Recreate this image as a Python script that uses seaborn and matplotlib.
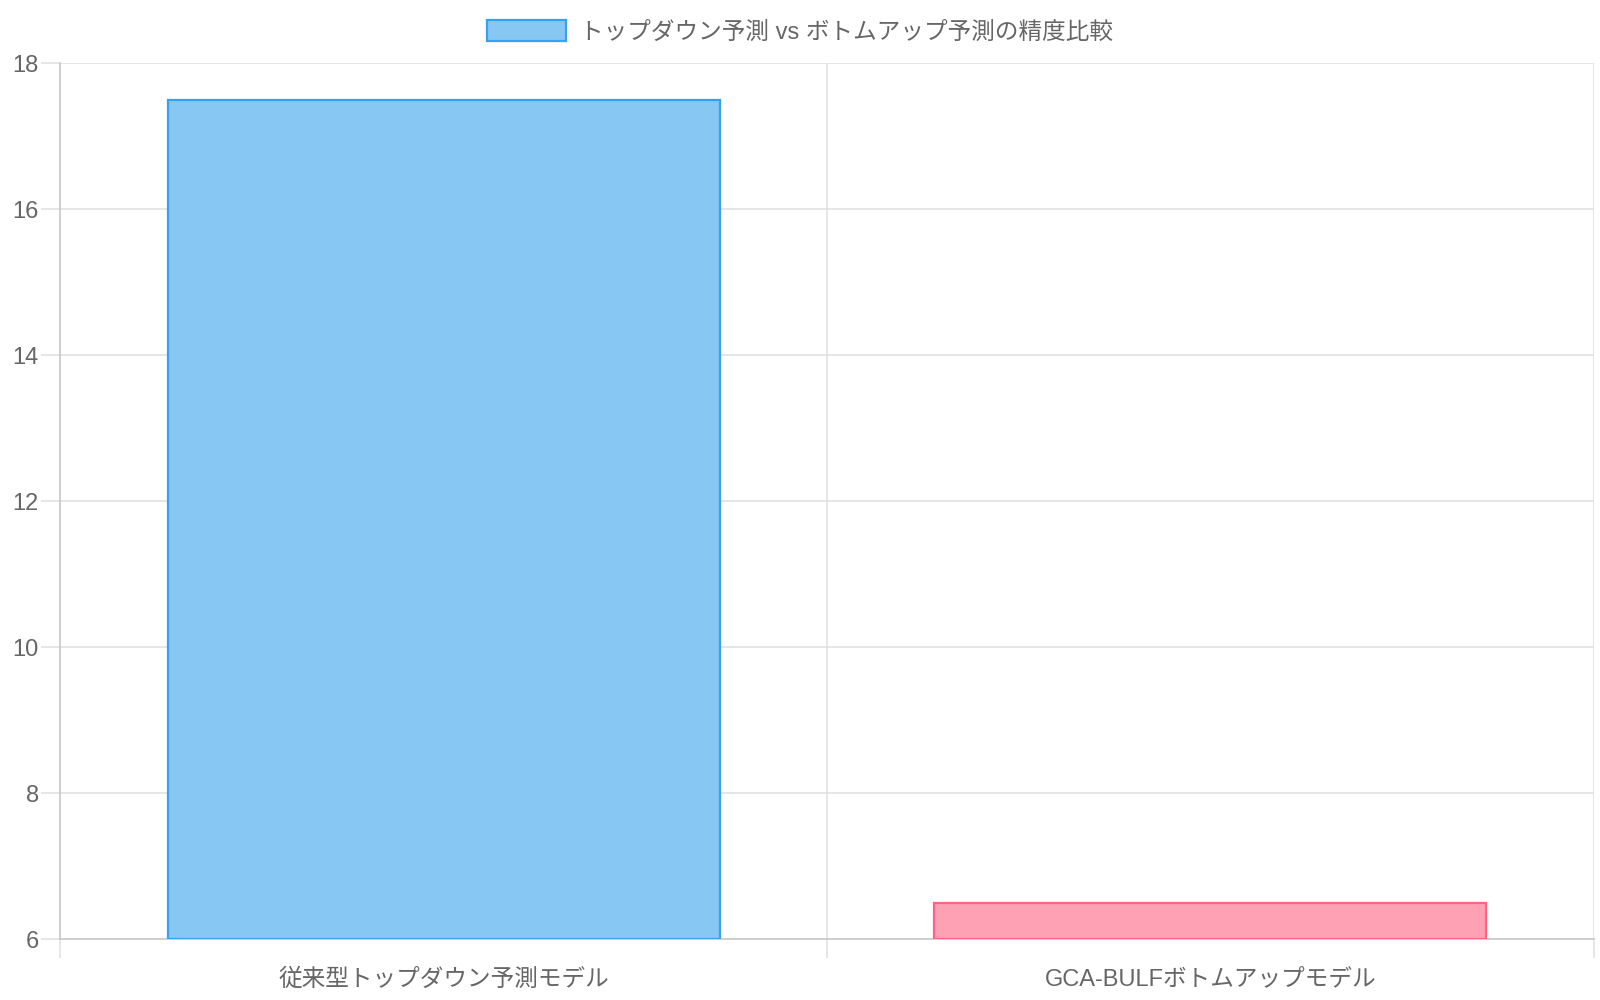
import numpy as np
import pandas as pd
import seaborn as sns
import matplotlib.pyplot as plt
from matplotlib.patches import Patch

models = ['従来型トップダウン予測モデル', 'GCA-BULFボトムアップモデル']
errors = [17.5, 6.5]
legend_label = 'トップダウン予測 vs ボトムアップ予測の精度比較'
y_ticks = [6, 8, 10, 12, 14, 16, 18]

fill_colors = ['#86c7f3', '#ffa1b5']
edge_colors = ['#36a2eb', '#ff6384']
text_color = '#666666'
grid_color = '#e1e1e1'

sns.set_style('white')
plt.rcParams['font.family'] = ['Liberation Sans', 'Noto Sans CJK JP', 'DejaVu Sans']

df = pd.DataFrame({'model': models, 'error': errors})

fig = plt.figure(figsize=(16, 10), dpi=100)
ax = fig.add_axes([0.0376, 0.061, 0.9585, 0.876])

sns.barplot(data=df, x='model', y='error', hue='model', palette=fill_colors,
            saturation=1, width=0.72, legend=False, ax=ax, zorder=3)
for bar, ec in zip(ax.patches, edge_colors):
    h = bar.get_height()
    # bars start at the axis floor, not at zero
    bar.set_y(y_ticks[0])
    bar.set_height(h - y_ticks[0])
    bar.set_edgecolor(ec)
    bar.set_linewidth(1.6)

ax.set_ylim(y_ticks[0], y_ticks[-1])
ax.set_xlim(-0.5, len(models) - 0.5)
ax.set_yticks(y_ticks)
ax.set_xticks(range(len(models)))
ax.set_xticks(np.arange(-0.5, len(models), 1.0), minor=True)
ax.set_xticklabels(models)
ax.set_xlabel('')
ax.set_ylabel('')

ax.grid(axis='y', color=grid_color, linewidth=1.2, zorder=0)
ax.grid(axis='x', which='minor', color=grid_color, linewidth=1.2, zorder=0)
ax.tick_params(axis='y', left=True, length=14, color=grid_color, width=1.2,
               labelsize=17, labelcolor=text_color, pad=1.5)
ax.tick_params(axis='x', which='major', bottom=True, length=0, labelsize=17,
               labelcolor=text_color, pad=21)
ax.tick_params(axis='x', which='minor', bottom=True, length=14,
               color=grid_color, width=1.2)
for side in ['top', 'right']:
    ax.spines[side].set_visible(False)
ax.spines['left'].set_color('#c8c8c8')
ax.spines['bottom'].set_color('#c8c8c8')
ax.spines['left'].set_linewidth(1.2)
ax.spines['bottom'].set_linewidth(1.2)

handles = [Patch(facecolor=fill_colors[0], edgecolor=edge_colors[0], linewidth=1.6)]
fig.legend(handles, [legend_label], loc='center', bbox_to_anchor=(0.5, 0.968),
           frameon=False, fontsize=17, handlelength=3.35, handleheight=1.0,
           handletextpad=0.6, labelcolor=text_color)

plt.savefig('out.png', dpi=100)
